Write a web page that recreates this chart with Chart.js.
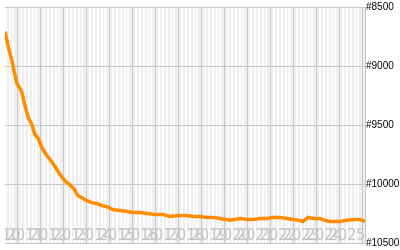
<!DOCTYPE html>
<html>
<head>
<meta charset="utf-8">
<script src="https://cdn.jsdelivr.net/npm/chart.js@4"></script>
<style>
html,body{margin:0;padding:0;background:#fff;}
#wrap{width:400px;height:250px;}
</style>
</head>
<body>
<div id="wrap"><canvas id="c" width="400" height="250"></canvas></div>
<script>
// decimal years
const dates = [2010.47,2010.60,2010.77,2010.90,2010.99,2011.12,2011.20,2011.33,2011.47,2011.64,2011.77,2011.90,
  2012.07,2012.25,2012.42,2012.60,2012.77,2012.94,2013.12,2013.29,2013.47,2013.64,2013.81,2014.03,2014.25,2014.47,
  2014.68,2014.90,2015.16,2015.47,2015.77,2016.03,2016.33,2016.64,2016.99,2017.33,2017.64,2017.99,2018.38,2018.64,
  2018.94,2019.25,2019.51,2019.81,2020.25,2020.47,2020.68,2020.99,2021.25,2021.55,2021.86,2022.12,2022.42,2022.73,
  2022.99,2023.29,2023.42,2023.64,2023.86,2024.16,2024.38,2024.60,2025.03,2025.33,2025.68,2025.90,2026.12];
const ranks = [8708,8833,8958,9083,9150,9192,9225,9333,9433,9500,9583,9608,
  9692,9750,9792,9842,9892,9942,9983,10008,10042,10100,10117,10142,10158,10167,
  10183,10192,10217,10225,10233,10242,10242,10250,10258,10258,10275,10267,10267,10275,
  10275,10283,10283,10292,10308,10300,10292,10300,10300,10292,10292,10283,10283,10292,
  10300,10308,10317,10283,10292,10292,10308,10317,10317,10308,10300,10300,10317];
const yearLabels = ['2010','2011','2012','2013','2014','2015','2016','2017','2018','2019','2020','2021','2022','2023','2024','2025'];
const firstYear = 2010;
const yTicks = [8500,9000,9500,10000,10500];

const X_MIN = 2010.465, X_MAX = 2026.117;

const bgPlugin = {
  id:'bg',
  beforeDraw(chart){
    const {ctx, chartArea:a} = chart;
    ctx.save();
    ctx.fillStyle = '#efefef';
    ctx.fillRect(a.left, a.top, a.right-a.left, a.bottom-a.top);
    ctx.restore();
  },
  beforeDatasetsDraw(chart){
    // year labels inside the plot area, positioned by the x scale
    const {ctx, chartArea:a, scales:{x}} = chart;
    ctx.save();
    ctx.beginPath();
    ctx.rect(a.left, a.top, a.right-a.left, a.bottom-a.top);
    ctx.clip();
    ctx.fillStyle = '#c4c4c4';
    ctx.font = '16px "Liberation Sans Narrow", "DejaVu Sans Condensed", sans-serif';
    ctx.textAlign = 'center';
    ctx.textBaseline = 'alphabetic';
    yearLabels.forEach((lab,i)=>{
      const px = x.getPixelForValue(firstYear + i + 0.34);
      ctx.fillText(lab, px, a.bottom - 3);
    });
    ctx.restore();
  }
};

function isYear(v){ return Math.abs(v - Math.round(v)) < 1e-6; }

new Chart(document.getElementById('c'), {
  type:'line',
  data:{
    datasets:[{
      data: dates.map((d,i)=>({x:d, y:ranks[i]})),
      borderColor:'#ff8c00',
      borderWidth:3.5,
      pointRadius:0,
      tension:0,
      fill:false
    }]
  },
  options:{
    responsive:false,
    animation:false,
    events:[],
    layout:{padding:{left:5,top:5,bottom:5,right:0}},
    plugins:{legend:{display:false}, tooltip:{enabled:false}},
    scales:{
      x:{
        type:'linear',
        min:X_MIN, max:X_MAX,
        afterBuildTicks(scale){
          const t=[{value:X_MIN}];
          for(let y=firstYear;y<=2026;y++){
            for(let m=0;m<12;m+=2){
              const v=y+m/12;
              if(v>X_MIN && v<=X_MAX) t.push({value:v});
            }
          }
          scale.ticks=t;
        },
        afterFit(scale){ scale.height=0; },
        grid:{
          drawTicks:false,
          color(ctx){
            const v = ctx.tick ? ctx.tick.value : 0;
            if (v===X_MIN || isYear(v)) return '#c8c8c8';
            return '#fcfcfc';
          },
          lineWidth(ctx){
            const v = ctx.tick ? ctx.tick.value : 0;
            if (v===X_MIN || isYear(v)) return 1;
            return 2;
          }
        },
        border:{display:true,color:'#c8c8c8'},
        ticks:{display:false}
      },
      y:{
        type:'linear',
        position:'right',
        reverse:true,
        min:8500, max:10500,
        afterBuildTicks(scale){ scale.ticks = yTicks.map(v=>({value:v})); },
        afterFit(scale){ scale.width=35; },
        grid:{drawTicks:false,color:'#c8c8c8',lineWidth:1},
        border:{display:true,color:'#c8c8c8'},
        ticks:{
          padding:1,
          color:'#000',
          font:{family:'"Liberation Sans", Arial, sans-serif', size:10},
          callback(v){ return '#'+v; }
        }
      }
    }
  },
  plugins:[bgPlugin]
});
</script>
</body>
</html>
